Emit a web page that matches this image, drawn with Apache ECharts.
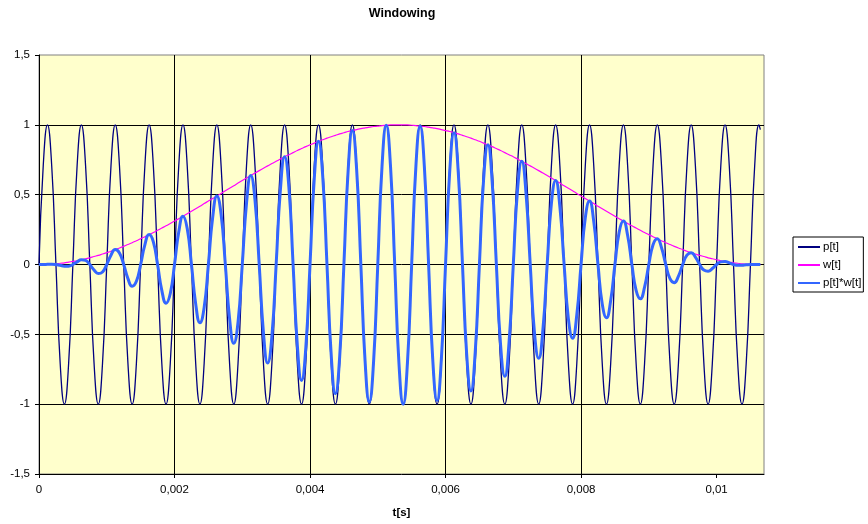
<!DOCTYPE html>
<html>
<head>
<meta charset="utf-8">
<script src="https://cdn.jsdelivr.net/npm/echarts@6/dist/echarts.min.js"></script>
<style>
html,body{margin:0;padding:0;background:#fff;}
#chart{width:868px;height:524px;}
</style>
</head>
<body>
<div id="chart"></div>
<script>
// time in seconds (read at 1/8 period of the 2 kHz tone)
var t = [
0, 0.0625e-3, 0.125e-3, 0.1875e-3, 0.25e-3, 0.3125e-3, 0.375e-3, 0.4375e-3,
0.5e-3, 0.5625e-3, 0.625e-3, 0.6875e-3, 0.75e-3, 0.8125e-3, 0.875e-3, 0.9375e-3,
1e-3, 1.0625e-3, 1.125e-3, 1.1875e-3, 1.25e-3, 1.3125e-3, 1.375e-3, 1.4375e-3,
1.5e-3, 1.5625e-3, 1.625e-3, 1.6875e-3, 1.75e-3, 1.8125e-3, 1.875e-3, 1.9375e-3,
2e-3, 2.0625e-3, 2.125e-3, 2.1875e-3, 2.25e-3, 2.3125e-3, 2.375e-3, 2.4375e-3,
2.5e-3, 2.5625e-3, 2.625e-3, 2.6875e-3, 2.75e-3, 2.8125e-3, 2.875e-3, 2.9375e-3,
3e-3, 3.0625e-3, 3.125e-3, 3.1875e-3, 3.25e-3, 3.3125e-3, 3.375e-3, 3.4375e-3,
3.5e-3, 3.5625e-3, 3.625e-3, 3.6875e-3, 3.75e-3, 3.8125e-3, 3.875e-3, 3.9375e-3,
4e-3, 4.0625e-3, 4.125e-3, 4.1875e-3, 4.25e-3, 4.3125e-3, 4.375e-3, 4.4375e-3,
4.5e-3, 4.5625e-3, 4.625e-3, 4.6875e-3, 4.75e-3, 4.8125e-3, 4.875e-3, 4.9375e-3,
5e-3, 5.0625e-3, 5.125e-3, 5.1875e-3, 5.25e-3, 5.3125e-3, 5.375e-3, 5.4375e-3,
5.5e-3, 5.5625e-3, 5.625e-3, 5.6875e-3, 5.75e-3, 5.8125e-3, 5.875e-3, 5.9375e-3,
6e-3, 6.0625e-3, 6.125e-3, 6.1875e-3, 6.25e-3, 6.3125e-3, 6.375e-3, 6.4375e-3,
6.5e-3, 6.5625e-3, 6.625e-3, 6.6875e-3, 6.75e-3, 6.8125e-3, 6.875e-3, 6.9375e-3,
7e-3, 7.0625e-3, 7.125e-3, 7.1875e-3, 7.25e-3, 7.3125e-3, 7.375e-3, 7.4375e-3,
7.5e-3, 7.5625e-3, 7.625e-3, 7.6875e-3, 7.75e-3, 7.8125e-3, 7.875e-3, 7.9375e-3,
8e-3, 8.0625e-3, 8.125e-3, 8.1875e-3, 8.25e-3, 8.3125e-3, 8.375e-3, 8.4375e-3,
8.5e-3, 8.5625e-3, 8.625e-3, 8.6875e-3, 8.75e-3, 8.8125e-3, 8.875e-3, 8.9375e-3,
9e-3, 9.0625e-3, 9.125e-3, 9.1875e-3, 9.25e-3, 9.3125e-3, 9.375e-3, 9.4375e-3,
9.5e-3, 9.5625e-3, 9.625e-3, 9.6875e-3, 9.75e-3, 9.8125e-3, 9.875e-3, 9.9375e-3,
10e-3, 10.0625e-3, 10.125e-3, 10.1875e-3, 10.25e-3, 10.3125e-3, 10.375e-3, 10.4375e-3,
10.5e-3, 10.5625e-3, 10.625e-3, 10.646e-3
];

// p[t]
var p = [
0, 0.707, 1, 0.707, 0, -0.707, -1, -0.707,
0, 0.707, 1, 0.707, 0, -0.707, -1, -0.707,
0, 0.707, 1, 0.707, 0, -0.707, -1, -0.707,
0, 0.707, 1, 0.707, 0, -0.707, -1, -0.707,
0, 0.707, 1, 0.707, 0, -0.707, -1, -0.707,
0, 0.707, 1, 0.707, 0, -0.707, -1, -0.707,
0, 0.707, 1, 0.707, 0, -0.707, -1, -0.707,
0, 0.707, 1, 0.707, 0, -0.707, -1, -0.707,
0, 0.707, 1, 0.707, 0, -0.707, -1, -0.707,
0, 0.707, 1, 0.707, 0, -0.707, -1, -0.707,
0, 0.707, 1, 0.707, 0, -0.707, -1, -0.707,
0, 0.707, 1, 0.707, 0, -0.707, -1, -0.707,
0, 0.707, 1, 0.707, 0, -0.707, -1, -0.707,
0, 0.707, 1, 0.707, 0, -0.707, -1, -0.707,
0, 0.707, 1, 0.707, 0, -0.707, -1, -0.707,
0, 0.707, 1, 0.707, 0, -0.707, -1, -0.707,
0, 0.707, 1, 0.707, 0, -0.707, -1, -0.707,
0, 0.707, 1, 0.707, 0, -0.707, -1, -0.707,
0, 0.707, 1, 0.707, 0, -0.707, -1, -0.707,
0, 0.707, 1, 0.707, 0, -0.707, -1, -0.707,
0, 0.707, 1, 0.707, 0, -0.707, -1, -0.707,
0, 0.707, 1, 0.966
];

// w[t]
var w = [
0, 0, 0.001, 0.003, 0.005, 0.009, 0.012, 0.017,
0.022, 0.027, 0.034, 0.041, 0.048, 0.057, 0.065, 0.075,
0.085, 0.095, 0.107, 0.118, 0.130, 0.143, 0.156, 0.170,
0.184, 0.199, 0.214, 0.229, 0.245, 0.261, 0.277, 0.294,
0.311, 0.328, 0.345, 0.363, 0.381, 0.399, 0.417, 0.436,
0.454, 0.472, 0.491, 0.509, 0.528, 0.546, 0.564, 0.583,
0.601, 0.619, 0.637, 0.655, 0.672, 0.689, 0.706, 0.723,
0.739, 0.755, 0.771, 0.786, 0.801, 0.816, 0.830, 0.844,
0.857, 0.869, 0.882, 0.893, 0.905, 0.915, 0.925, 0.935,
0.943, 0.952, 0.959, 0.966, 0.973, 0.978, 0.983, 0.988,
0.991, 0.995, 0.997, 0.999, 1, 1, 1, 0.999,
0.997, 0.995, 0.991, 0.988, 0.983, 0.978, 0.973, 0.966,
0.959, 0.952, 0.943, 0.935, 0.925, 0.915, 0.905, 0.893,
0.882, 0.869, 0.857, 0.844, 0.830, 0.816, 0.801, 0.786,
0.771, 0.755, 0.739, 0.723, 0.706, 0.689, 0.672, 0.655,
0.637, 0.619, 0.601, 0.583, 0.564, 0.546, 0.528, 0.509,
0.491, 0.472, 0.454, 0.436, 0.417, 0.399, 0.381, 0.363,
0.345, 0.328, 0.311, 0.294, 0.277, 0.261, 0.245, 0.229,
0.214, 0.199, 0.184, 0.170, 0.156, 0.143, 0.130, 0.118,
0.107, 0.095, 0.085, 0.075, 0.065, 0.057, 0.048, 0.041,
0.034, 0.027, 0.022, 0.017, 0.012, 0.009, 0.005, 0.003,
0.001, 0, 0, 0
];

// p[t]*w[t]
var pw = [
0, 0, 0.001, 0.002, 0, -0.006, -0.012, -0.012,
0, 0.019, 0.034, 0.029, 0, -0.040, -0.065, -0.053,
0, 0.067, 0.107, 0.083, 0, -0.101, -0.156, -0.120,
0, 0.141, 0.214, 0.162, 0, -0.185, -0.277, -0.208,
0, 0.232, 0.345, 0.257, 0, -0.282, -0.417, -0.308,
0, 0.334, 0.491, 0.360, 0, -0.386, -0.564, -0.412,
0, 0.438, 0.637, 0.463, 0, -0.487, -0.706, -0.511,
0, 0.534, 0.771, 0.556, 0, -0.577, -0.830, -0.597,
0, 0.614, 0.882, 0.631, 0, -0.647, -0.925, -0.661,
0, 0.673, 0.959, 0.683, 0, -0.691, -0.983, -0.699,
0, 0.703, 0.997, 0.706, 0, -0.707, -1.000, -0.706,
0, 0.703, 0.991, 0.699, 0, -0.691, -0.973, -0.683,
0, 0.673, 0.943, 0.661, 0, -0.647, -0.905, -0.631,
0, 0.614, 0.857, 0.597, 0, -0.577, -0.801, -0.556,
0, 0.534, 0.739, 0.511, 0, -0.487, -0.672, -0.463,
0, 0.438, 0.601, 0.412, 0, -0.386, -0.528, -0.360,
0, 0.334, 0.454, 0.308, 0, -0.282, -0.381, -0.257,
0, 0.232, 0.311, 0.208, 0, -0.185, -0.245, -0.162,
0, 0.141, 0.184, 0.120, 0, -0.101, -0.130, -0.083,
0, 0.067, 0.085, 0.053, 0, -0.040, -0.048, -0.029,
0, 0.019, 0.022, 0.012, 0, -0.006, -0.005, -0.002,
0, 0, 0, 0
];

var seriesNames = ['p[t]', 'w[t]', 'p[t]*w[t]'];
var xTicks = [0, 0.002, 0.004, 0.006, 0.008, 0.01];
var xTickLabels = ['0', '0,002', '0,004', '0,006', '0,008', '0,01'];
var yTicks = [-1.5, -1, -0.5, 0, 0.5, 1, 1.5];
var yTickLabels = ['-1,5', '-1', '-0,5', '0', '0,5', '1', '1,5'];
var titleText = 'Windowing';
var xName = 't[s]';

function lookup(ticks, labels, v) {
  for (var i = 0; i < ticks.length; i++) {
    if (Math.abs(ticks[i] - v) < 1e-9) return labels[i];
  }
  return '';
}
function pairs(xs, ys) {
  var out = [];
  for (var i = 0; i < xs.length; i++) out.push([xs[i], ys[i]]);
  return out;
}

var FONT = "'Liberation Sans', Arial, sans-serif";
var chart = echarts.init(document.getElementById('chart'), null, {renderer: 'canvas'});
chart.setOption({
  animation: false,
  backgroundColor: '#ffffff',
  title: {
    text: titleText,
    left: 402,
    textAlign: 'center',
    top: 7,
    padding: 0,
    textStyle: {fontFamily: FONT, fontSize: 12.5, fontWeight: 'bold', color: '#000'}
  },
  legend: {
    orient: 'vertical',
    left: 793,
    top: 237,
    padding: [4, 2, 3, 4],
    itemGap: 6,
    itemWidth: 22,
    itemHeight: 12,
    backgroundColor: '#ffffff',
    borderColor: '#000000',
    borderWidth: 1,
    borderRadius: 0,
    itemStyle: {opacity: 0},
    textStyle: {fontFamily: FONT, fontSize: 11.5, color: '#000', padding: [0, 0, 0, -2]},
    data: seriesNames
  },
  grid: {
    left: 39, right: 104, top: 55, bottom: 50,
    containLabel: false,
    outerBoundsMode: 'none',
    show: true,
    backgroundColor: '#FFFFCC',
    borderColor: '#808080',
    borderWidth: 1
  },
  xAxis: {
    type: 'value',
    min: 0,
    max: 0.0107,
    interval: 0.002,
    name: xName,
    nameLocation: 'middle',
    nameGap: 33,
    nameTextStyle: {fontFamily: FONT, fontSize: 11.5, fontWeight: 'bold', color: '#000'},
    axisLine: {show: true, onZero: false, lineStyle: {color: '#000', width: 1}},
    axisTick: {show: true, inside: false, length: 4, customValues: xTicks, lineStyle: {color: '#000'}},
    axisLabel: {
      margin: 10, fontFamily: FONT, fontSize: 11.5, color: '#000',
      customValues: xTicks,
      formatter: function (v) { return lookup(xTicks, xTickLabels, v); }
    },
    splitLine: {show: true, showMinLine: false, showMaxLine: false, lineStyle: {color: '#000', width: 1}}
  },
  yAxis: {
    type: 'value',
    min: -1.5,
    max: 1.5,
    interval: 0.5,
    axisLine: {show: true, onZero: false, lineStyle: {color: '#000', width: 1}},
    axisTick: {show: true, inside: false, length: 4, lineStyle: {color: '#000'}},
    axisLabel: {
      margin: 9, fontFamily: FONT, fontSize: 11.5, color: '#000',
      formatter: function (v) { return lookup(yTicks, yTickLabels, v); }
    },
    splitLine: {show: true, showMinLine: false, showMaxLine: false, lineStyle: {color: '#000', width: 1}}
  },
  series: [
    {
      name: seriesNames[0], type: 'line', data: pairs(t, p),
      symbol: 'none', smooth: true, z: 2,
      lineStyle: {color: '#000080', width: 1.3},
      itemStyle: {color: '#000080'}
    },
    {
      name: seriesNames[1], type: 'line', data: pairs(t, w),
      symbol: 'none', smooth: true, z: 3,
      lineStyle: {color: '#FF00FF', width: 1.2},
      itemStyle: {color: '#FF00FF'}
    },
    {
      name: seriesNames[2], type: 'line', data: pairs(t, pw),
      symbol: 'none', smooth: true, z: 4,
      lineStyle: {color: '#3366FF', width: 3},
      itemStyle: {color: '#3366FF'}
    }
  ]
});
</script>
</body>
</html>
